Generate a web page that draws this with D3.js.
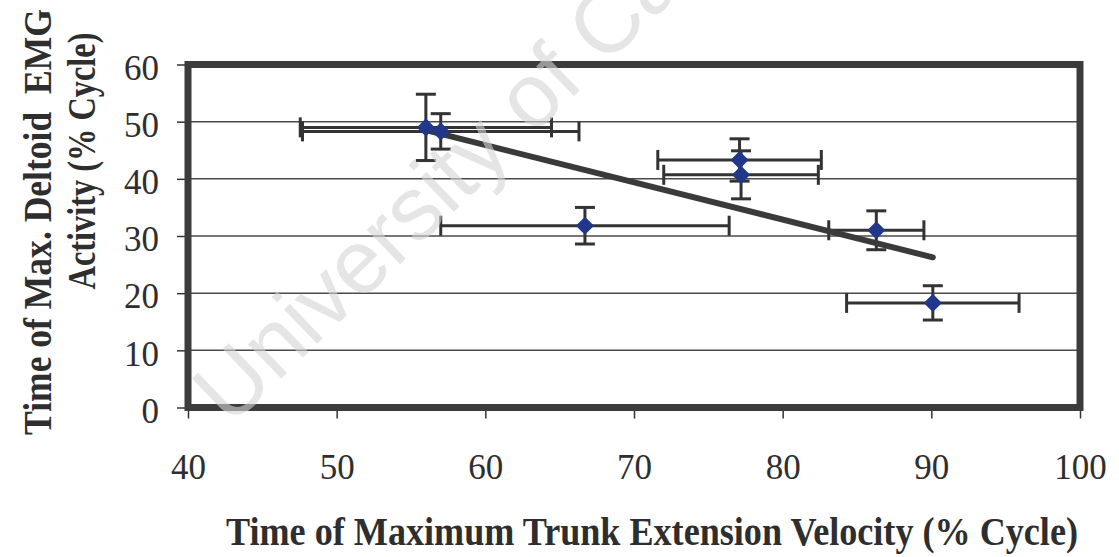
<!DOCTYPE html>
<html>
<head>
<meta charset="utf-8">
<script src="https://cdn.jsdelivr.net/npm/d3@7"></script>
<style>
  html, body { margin: 0; padding: 0; background: #fff; }
  svg { display: block; }
</style>
</head>
<body>
<svg id="chart" width="1119" height="557"></svg>
<script>
// Timing of peak trunk extension velocity vs. timing of peak deltoid EMG (% of cycle)
const trunkTime = [56.0, 57.0, 66.7, 77.1, 77.2, 86.3, 90.1];
const deltoidTime = [49.0, 48.3, 31.8, 43.3, 40.7, 31.0, 18.3];
const trunkSD = [8.45, 9.3, 9.7, 5.5, 5.2, 3.2, 5.8];
const deltoidSD = [5.8, 3.1, 3.2, 3.7, 4.2, 3.4, 3.0];

const xTicks = [40, 50, 60, 70, 80, 90, 100];
const yTicks = [0, 10, 20, 30, 40, 50, 60];

const xTitle = "Time of Maximum Trunk Extension Velocity (% Cycle)";
const yTitleLines = ["Time of Max. Deltoid\u00a0\u00a0EMG", "Activity (% Cycle)"];
const watermark = "University of Calgary";

const points = trunkTime.map((x, i) => ({ x, y: deltoidTime[i], ex: trunkSD[i], ey: deltoidSD[i] }));

const svg = d3.select("#chart");
const plot = { left: 188, right: 1080, top: 64.5, bottom: 407.5 };

const x = d3.scaleLinear().domain([40, 100]).range([plot.left, plot.right]);
const y = d3.scaleLinear().domain([0, 60]).range([plot.bottom, plot.top]);

const ink = "#333";
const serif = "Liberation Serif, Times New Roman, serif";

// horizontal gridlines
svg.append("g")
  .selectAll("line")
  .data(yTicks.filter(t => t > 0 && t < 60))
  .join("line")
  .attr("x1", plot.left).attr("x2", plot.right)
  .attr("y1", d => y(d)).attr("y2", d => y(d))
  .attr("stroke", "#4a4a4a").attr("stroke-width", 1.5);

// axes
const yAxis = svg.append("g")
  .attr("transform", `translate(${plot.left},0)`)
  .call(d3.axisLeft(y).tickValues(yTicks).tickSize(11).tickPadding(18).tickFormat(d3.format("d")));
const xAxis = svg.append("g")
  .attr("transform", `translate(0,${plot.bottom})`)
  .call(d3.axisBottom(x).tickValues(xTicks).tickSize(11).tickPadding(36).tickFormat(d3.format("d")));

[yAxis, xAxis].forEach(g => {
  g.attr("font-family", serif).attr("font-size", 35);
  g.select(".domain").remove();
  g.selectAll(".tick line").attr("stroke", ink).attr("stroke-width", 1.5);
  g.selectAll(".tick text")
    .attr("fill", "#2e2e2e")
    .attr("font-family", serif)
    .attr("font-size", 35);
});
yAxis.selectAll(".tick text").attr("dy", "0.42em");

// plot frame
svg.append("rect")
  .attr("x", plot.left).attr("y", plot.top)
  .attr("width", plot.right - plot.left).attr("height", plot.bottom - plot.top)
  .attr("fill", "none").attr("stroke", "#3c3c3c").attr("stroke-width", 7);

// error bars
const cap = 10;
const eb = svg.append("g").attr("stroke", ink).attr("stroke-width", 3).attr("fill", "none");
points.forEach(p => {
  const g = eb.append("g");
  // horizontal (trunk SD)
  g.append("line").attr("x1", x(p.x - p.ex)).attr("x2", x(p.x + p.ex)).attr("y1", y(p.y)).attr("y2", y(p.y));
  g.append("line").attr("x1", x(p.x - p.ex)).attr("x2", x(p.x - p.ex)).attr("y1", y(p.y) - cap).attr("y2", y(p.y) + cap);
  g.append("line").attr("x1", x(p.x + p.ex)).attr("x2", x(p.x + p.ex)).attr("y1", y(p.y) - cap).attr("y2", y(p.y) + cap);
  // vertical (deltoid SD)
  g.append("line").attr("x1", x(p.x)).attr("x2", x(p.x)).attr("y1", y(p.y - p.ey)).attr("y2", y(p.y + p.ey));
  g.append("line").attr("x1", x(p.x) - cap).attr("x2", x(p.x) + cap).attr("y1", y(p.y - p.ey)).attr("y2", y(p.y - p.ey));
  g.append("line").attr("x1", x(p.x) - cap).attr("x2", x(p.x) + cap).attr("y1", y(p.y + p.ey)).attr("y2", y(p.y + p.ey));
});

// least-squares trend line over the observed range
const mx = d3.mean(trunkTime), my = d3.mean(deltoidTime);
const slope = d3.sum(trunkTime, (v, i) => (v - mx) * (deltoidTime[i] - my)) / d3.sum(trunkTime, v => (v - mx) ** 2);
const intercept = my - slope * mx;
const [x0, x1] = d3.extent(trunkTime);
svg.append("line")
  .attr("x1", x(x0)).attr("y1", y(intercept + slope * x0))
  .attr("x2", x(x1)).attr("y2", y(intercept + slope * x1))
  .attr("stroke", "#3a3a3a").attr("stroke-width", 6).attr("stroke-linecap", "round");

// diamond markers
svg.append("g")
  .selectAll("path")
  .data(points)
  .join("path")
  .attr("d", d3.symbol(d3.symbolSquare, 165))
  .attr("transform", d => `translate(${x(d.x)},${y(d.y)}) rotate(45)`)
  .attr("fill", "#21388a");

// axis titles: bold serif, condensed horizontally to the wanted length
function condensedTitle(str, cx, cy, angle, length) {
  const t = svg.append("text")
    .attr("text-anchor", "middle")
    .attr("font-family", serif).attr("font-weight", "bold").attr("font-size", 40)
    .attr("fill", "#2e2e2e")
    .text(str);
  const natural = t.node().getComputedTextLength();
  t.attr("transform", `translate(${cx},${cy}) rotate(${angle}) scale(${length / natural},1)`);
  return t;
}

condensedTitle(xTitle, 652, 545, 0, 852);
condensedTitle(yTitleLines[0], 51, 222, -90, 426);
condensedTitle(yTitleLines[1], 95, 161, -90, 257);

// watermark
svg.append("text")
  .attr("transform", "translate(230,428) rotate(-44)")
  .attr("fill", "#d4d4d4").attr("fill-opacity", 0.6)
  .attr("font-family", "Liberation Sans, Arial, sans-serif")
  .attr("font-size", 90)
  .text(watermark);
</script>
</body>
</html>
